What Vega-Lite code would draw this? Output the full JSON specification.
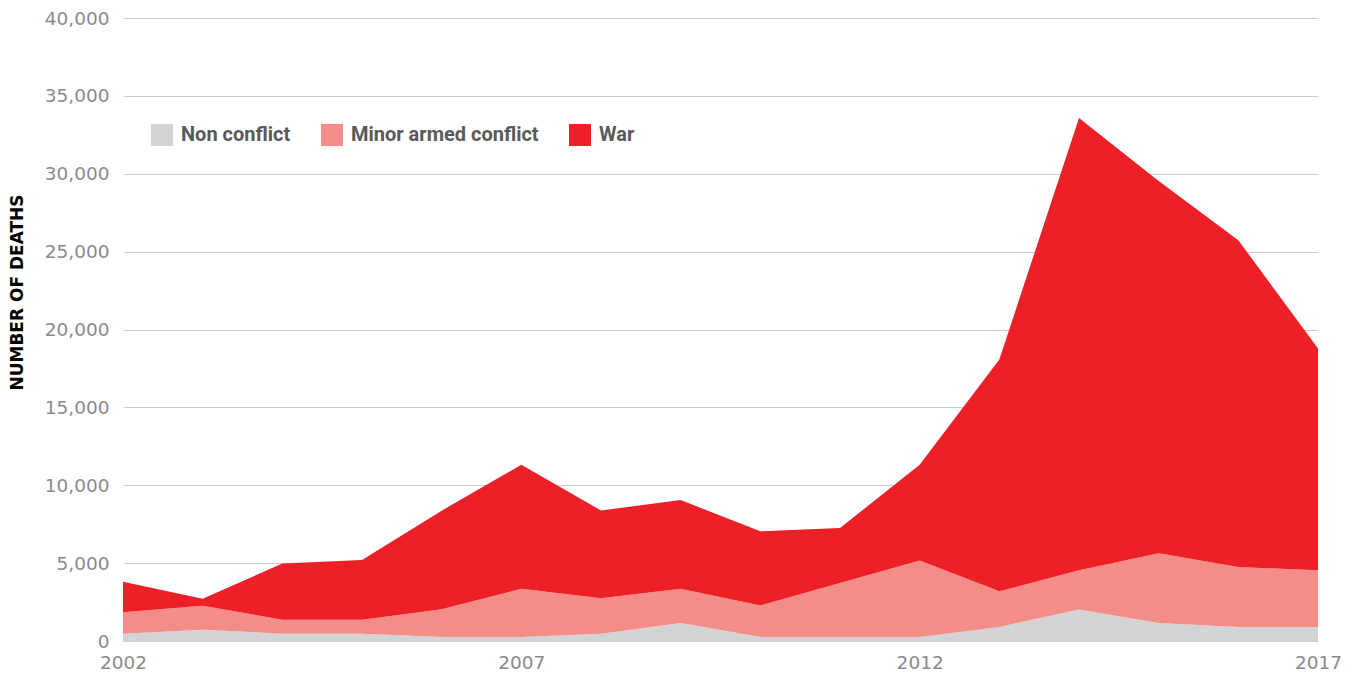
{
  "$schema": "https://vega.github.io/schema/vega-lite/v6.json",
  "width": 1195,
  "height": 623,
  "autosize": {"type": "none"},
  "padding": {"left": 123, "top": 18, "right": 28, "bottom": 36},
  "background": "#ffffff",
  "config": {"view": {"stroke": null}, "font": "Roboto"},
  "data": {
    "values": [
      {"year": 2002, "type": "Non conflict", "intensity": 0, "deaths": 470},
      {"year": 2003, "type": "Non conflict", "intensity": 0, "deaths": 730},
      {"year": 2004, "type": "Non conflict", "intensity": 0, "deaths": 470},
      {"year": 2005, "type": "Non conflict", "intensity": 0, "deaths": 470},
      {"year": 2006, "type": "Non conflict", "intensity": 0, "deaths": 250},
      {"year": 2007, "type": "Non conflict", "intensity": 0, "deaths": 250},
      {"year": 2008, "type": "Non conflict", "intensity": 0, "deaths": 470},
      {"year": 2009, "type": "Non conflict", "intensity": 0, "deaths": 1150},
      {"year": 2010, "type": "Non conflict", "intensity": 0, "deaths": 250},
      {"year": 2011, "type": "Non conflict", "intensity": 0, "deaths": 250},
      {"year": 2012, "type": "Non conflict", "intensity": 0, "deaths": 250},
      {"year": 2013, "type": "Non conflict", "intensity": 0, "deaths": 900},
      {"year": 2014, "type": "Non conflict", "intensity": 0, "deaths": 2030},
      {"year": 2015, "type": "Non conflict", "intensity": 0, "deaths": 1150},
      {"year": 2016, "type": "Non conflict", "intensity": 0, "deaths": 900},
      {"year": 2017, "type": "Non conflict", "intensity": 0, "deaths": 900},
      {"year": 2002, "type": "Minor armed conflict", "intensity": 1, "deaths": 1370},
      {"year": 2003, "type": "Minor armed conflict", "intensity": 1, "deaths": 1540},
      {"year": 2004, "type": "Minor armed conflict", "intensity": 1, "deaths": 900},
      {"year": 2005, "type": "Minor armed conflict", "intensity": 1, "deaths": 900},
      {"year": 2006, "type": "Minor armed conflict", "intensity": 1, "deaths": 1790},
      {"year": 2007, "type": "Minor armed conflict", "intensity": 1, "deaths": 3100},
      {"year": 2008, "type": "Minor armed conflict", "intensity": 1, "deaths": 2270},
      {"year": 2009, "type": "Minor armed conflict", "intensity": 1, "deaths": 2210},
      {"year": 2010, "type": "Minor armed conflict", "intensity": 1, "deaths": 2030},
      {"year": 2011, "type": "Minor armed conflict", "intensity": 1, "deaths": 3470},
      {"year": 2012, "type": "Minor armed conflict", "intensity": 1, "deaths": 4920},
      {"year": 2013, "type": "Minor armed conflict", "intensity": 1, "deaths": 2290},
      {"year": 2014, "type": "Minor armed conflict", "intensity": 1, "deaths": 2510},
      {"year": 2015, "type": "Minor armed conflict", "intensity": 1, "deaths": 4490},
      {"year": 2016, "type": "Minor armed conflict", "intensity": 1, "deaths": 3850},
      {"year": 2017, "type": "Minor armed conflict", "intensity": 1, "deaths": 3640},
      {"year": 2002, "type": "War", "intensity": 2, "deaths": 1970},
      {"year": 2003, "type": "War", "intensity": 2, "deaths": 450},
      {"year": 2004, "type": "War", "intensity": 2, "deaths": 3600},
      {"year": 2005, "type": "War", "intensity": 2, "deaths": 3830},
      {"year": 2006, "type": "War", "intensity": 2, "deaths": 6330},
      {"year": 2007, "type": "War", "intensity": 2, "deaths": 7970},
      {"year": 2008, "type": "War", "intensity": 2, "deaths": 5640},
      {"year": 2009, "type": "War", "intensity": 2, "deaths": 5690},
      {"year": 2010, "type": "War", "intensity": 2, "deaths": 4760},
      {"year": 2011, "type": "War", "intensity": 2, "deaths": 3530},
      {"year": 2012, "type": "War", "intensity": 2, "deaths": 6150},
      {"year": 2013, "type": "War", "intensity": 2, "deaths": 14880},
      {"year": 2014, "type": "War", "intensity": 2, "deaths": 29040},
      {"year": 2015, "type": "War", "intensity": 2, "deaths": 23900},
      {"year": 2016, "type": "War", "intensity": 2, "deaths": 20980},
      {"year": 2017, "type": "War", "intensity": 2, "deaths": 14240}
    ]
  },
  "mark": {"type": "area", "line": false, "opacity": 1},
  "encoding": {
    "x": {
      "field": "year",
      "type": "quantitative",
      "scale": {"domain": [2002, 2017], "nice": false, "zero": false},
      "axis": {
        "title": null,
        "values": [2002, 2007, 2012, 2017],
        "format": "d",
        "grid": false,
        "domain": false,
        "ticks": false,
        "labelFlush": false,
        "labelPadding": 12,
        "labelFontSize": 18.5,
        "labelColor": "#8a8a8c",
        "labelFont": "DejaVu Sans"
      }
    },
    "y": {
      "field": "deaths",
      "type": "quantitative",
      "stack": "zero",
      "scale": {"domain": [0, 40000], "nice": false},
      "axis": {
        "title": "NUMBER OF DEATHS",
        "values": [0, 5000, 10000, 15000, 20000, 25000, 30000, 35000, 40000],
        "format": ",d",
        "grid": true,
        "gridColor": "#cccccc",
        "gridWidth": 1,
        "domain": false,
        "ticks": false,
        "labelPadding": 14,
        "labelFontSize": 18.5,
        "labelColor": "#8a8a8c",
        "labelFont": "DejaVu Sans",
        "titleFont": "DejaVu Sans",
        "titleFontWeight": "bold",
        "titleFontSize": 17,
        "titleColor": "#000000",
        "titleAngle": 270,
        "titleAlign": "center",
        "titleBaseline": "middle",
        "titleX": -106,
        "titleY": 274
      }
    },
    "order": {"field": "intensity", "type": "quantitative", "sort": "ascending"},
    "color": {
      "field": "type",
      "type": "nominal",
      "scale": {
        "domain": ["Non conflict", "Minor armed conflict", "War"],
        "range": ["#d1d3d4", "#f48d88", "#ed1f27"]
      },
      "legend": {
        "title": null,
        "orient": "none",
        "direction": "horizontal",
        "legendX": 28,
        "legendY": 106,
        "symbolType": "square",
        "symbolSize": 484,
        "symbolStrokeWidth": 0,
        "symbolOpacity": 1,
        "labelFont": "Roboto",
        "labelFontSize": 20,
        "labelFontWeight": "bold",
        "labelColor": "#58595b",
        "labelOffset": 8,
        "labelLimit": 400,
        "columnPadding": 30
      }
    }
  }
}
